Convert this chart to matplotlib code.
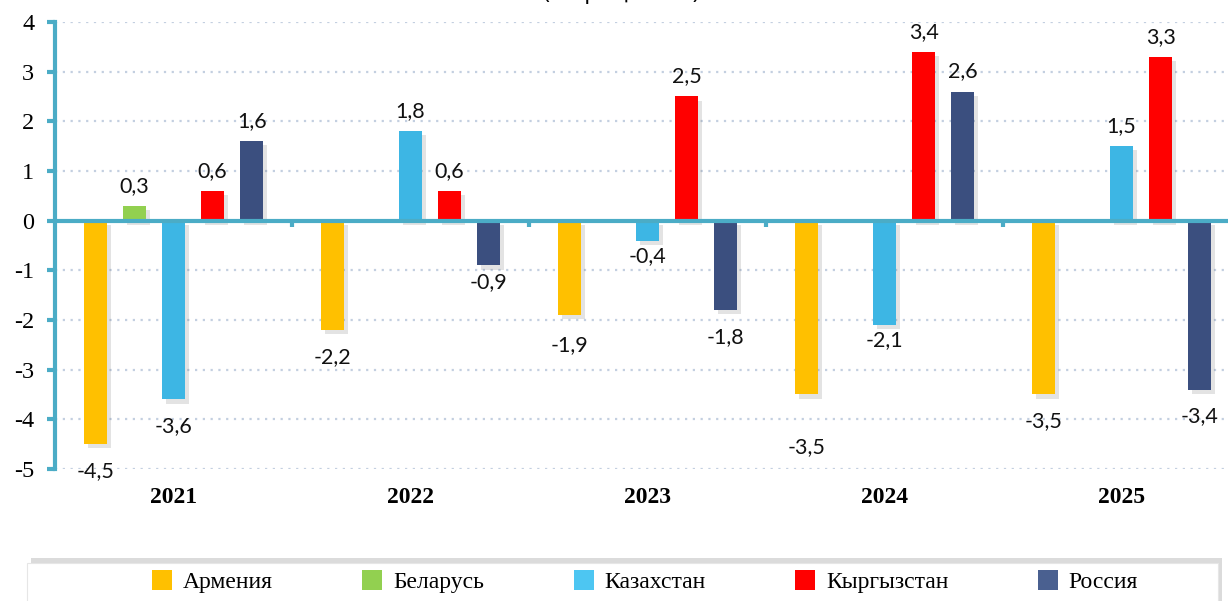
import numpy as np
import matplotlib
matplotlib.use('Agg')
import matplotlib.pyplot as plt
import matplotlib.patheffects as pe
from matplotlib.patches import Rectangle, Patch

years = ['2021', '2022', '2023', '2024', '2025']
countries = ['Армения', 'Беларусь', 'Казахстан', 'Кыргызстан', 'Россия']
armenia = [-4.5, -2.2, -1.9, -3.5, -3.5]
belarus = [0.3, np.nan, np.nan, np.nan, np.nan]
kazakhstan = [-3.6, 1.8, -0.4, -2.1, 1.5]
kyrgyzstan = [0.6, 0.6, 2.5, 3.4, 3.3]
russia = [1.6, -0.9, -1.8, 2.6, -3.4]
series = [armenia, belarus, kazakhstan, kyrgyzstan, russia]
colors = ['#FFC000', '#92D050', '#3DB6E4', '#FF0000', '#3B4F7F']
legend_colors = ['#FFC000', '#92D050', '#4DC6F2', '#FF0000', '#4A6090']
yticks = [-5, -4, -3, -2, -1, 0, 1, 2, 3, 4]

teal = '#4BACC6'
num_font = ['Lato', 'DejaVu Sans']
serif = ['Liberation Serif', 'DejaVu Serif']

fig = plt.figure(figsize=(12.28, 6.01), dpi=100)
ax = fig.add_axes([55/1228, 1-469/601, 1185/1228, 447/601])

x = np.arange(len(years))
step = 0.165
width = 0.097
shadow = [pe.SimplePatchShadow(offset=(3, -3), shadow_rgbFace='#666666', alpha=0.18), pe.Normal()]

# label distance from bar end (pixels), with a few manual tweaks like the original
gap_up, gap_down = 20, 27
tweak = {(4, 1): 17, (2, 2): 16, (0, 3): 53, (2, 3): 15, (0, 2): 30}

for j, vals in enumerate(series):
    xs = x + (j - 2) * step
    bars = ax.bar(xs, vals, width=width, color=colors[j], zorder=3)
    for b in bars:
        b.set_path_effects(shadow)
    for i, v in enumerate(vals):
        if np.isnan(v):
            continue
        if v >= 0:
            dy = tweak.get((j, i), gap_up)
        else:
            dy = -tweak.get((j, i), gap_down)
        ax.annotate(('%.1f' % v).replace('.', ','), (xs[i], v), xytext=(0, dy),
                    textcoords='offset pixels', ha='center', va='center',
                    fontsize=15.5, family=num_font, color='#111111', zorder=5)

ax.set_xlim(-0.5, len(years) - 0.5)
ax.set_ylim(-5, 4)
ax.set_yticks(yticks)
ax.set_yticklabels([str(t) for t in yticks], family=serif, fontsize=17.5)
ax.tick_params(axis='y', direction='out', length=6, width=3, color=teal, pad=9)
ax.set_xticks([])
for i, yr in enumerate(years):
    ax.text(i, -5.57, yr, ha='center', va='center', fontsize=17, fontweight='bold',
            family=serif, clip_on=False)

for s in ['top', 'right', 'bottom']:
    ax.spines[s].set_visible(False)
ax.spines['left'].set_color(teal)
ax.spines['left'].set_linewidth(3)

for t in yticks:
    if t != 0:
        ax.axhline(t, color='#C3CFE0', linestyle=(0, (1, 2.5)), linewidth=1.6, zorder=1)
ax.axhline(0, color=teal, linewidth=3, zorder=4)
ax.vlines(x[:-1] + 0.5, -0.13, 0, color=teal, linewidth=3, zorder=4)

fig.text(621/1228, 1.004, '(в процентах)', ha='center', va='baseline',
         fontsize=17, family=['Open Sans', 'DejaVu Sans'])

# legend box
box = Rectangle((27/1228, -0.02), 1191/1228, 0.083, transform=fig.transFigure,
                facecolor='white', edgecolor='#E6E6E6', linewidth=0.8, zorder=0)
box.set_path_effects([pe.SimplePatchShadow(offset=(3, 4), shadow_rgbFace='#888888', alpha=0.3),
                      pe.Normal()])
fig.patches.append(box)

handles = [Patch(facecolor=c, edgecolor='none') for c in legend_colors]
fig.legend(handles, countries, loc='center', bbox_to_anchor=(645/1228, 0.033), ncol=5,
           frameon=False, prop={'family': serif, 'size': 17}, handlelength=0.85,
           handleheight=0.95, handletextpad=0.45, columnspacing=3.8)

fig.savefig('out.png', dpi=100)
